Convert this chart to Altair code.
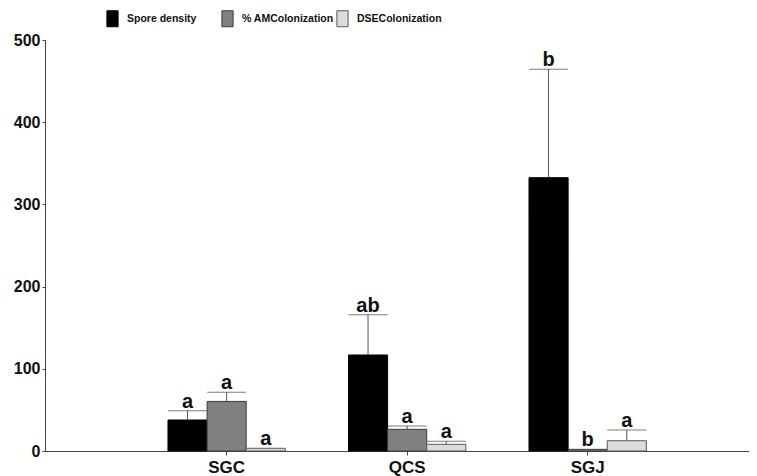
import altair as alt
import pandas as pd

groups = ["SGC", "QCS", "SGJ"]
series = ["Spore density", "% AMColonization", "DSEColonization"]

spore = [37.7, 116.8, 332.5]
spore_top = [49.0, 165.8, 464.4]
spore_letter = ["a", "ab", "b"]

am = [60.3, 26.4, 2.0]
am_top = [71.4, 30.4, 2.0]
am_letter = ["a", "a", "b"]

dse = [3.3, 8.1, 12.5]
dse_top = [3.3, 11.8, 25.5]
dse_letter = ["a", "a", "a"]

colors = ["#000000", "#808080", "#dcdcdc"]
strokes = ["#000000", "#3c3c3c", "#5a5a5a"]

rows = []
for s, vals, tops, lets in [
    (series[0], spore, spore_top, spore_letter),
    (series[1], am, am_top, am_letter),
    (series[2], dse, dse_top, dse_letter),
]:
    for g, v, t, l in zip(groups, vals, tops, lets):
        rows.append({"group": g, "series": s, "value": v, "top": t, "letter": l,
                     "has_err": t > v})
df = pd.DataFrame(rows)

FONT = "Liberation Sans"

x_enc = alt.X("group:N", sort=groups, title=None,
              scale=alt.Scale(paddingInner=0.35, paddingOuter=0.625, align=0.545),
              axis=alt.Axis(labelAngle=0, labelFontSize=17, labelFontWeight="bold",
                            labelColor="#111111", labelFont=FONT, tickSize=4,
                            tickColor="#444444", domainColor="#444444", labelPadding=4))
xo_enc = alt.XOffset("series:N", sort=series,
                     scale=alt.Scale(paddingInner=0, paddingOuter=0))
y_scale = alt.Scale(domain=[0, 500], nice=False)
y_enc = alt.Y("value:Q", scale=y_scale, title=None,
              axis=alt.Axis(values=[0, 100, 200, 300, 400, 500], labelFontSize=16,
                            labelFontWeight="bold", labelColor="#111111", labelFont=FONT,
                            tickSize=3, tickColor="#444444", domainColor="#444444",
                            labelPadding=2, grid=False))

base = alt.Chart(df)

bars = base.mark_bar(strokeWidth=1).encode(
    x=x_enc,
    xOffset=xo_enc,
    y=y_enc,
    color=alt.Color("series:N", sort=series,
                    scale=alt.Scale(domain=series, range=colors),
                    legend=alt.Legend(title=None, orient="none", legendX=59, legendY=-30,
                                      direction="horizontal", columns=3, gridAlign="all",
                                      columnPadding=0,
                                      symbolType="M-0.7,-1L0.7,-1L0.7,1L-0.7,1Z",
                                      symbolSize=256, symbolStrokeColor="#222222",
                                      symbolStrokeWidth=1, symbolOpacity=1,
                                      labelFont=FONT, labelFontSize=10.5,
                                      labelFontWeight="bold", labelColor="#111111",
                                      labelOffset=6)),
    stroke=alt.Stroke("series:N", sort=series,
                      scale=alt.Scale(domain=series, range=strokes), legend=None),
)

err = base.transform_filter("datum.has_err").mark_rule(color="#555555", strokeWidth=1).encode(
    x=alt.X("group:N", sort=groups),
    xOffset=alt.XOffset("series:N", sort=series),
    y=alt.Y("value:Q", scale=y_scale),
    y2="top:Q",
)

caps = base.transform_filter("datum.has_err").mark_tick(
    color="#444444", thickness=1, size=39, orient="horizontal"
).encode(
    x=alt.X("group:N", sort=groups),
    xOffset=alt.XOffset("series:N", sort=series),
    y=alt.Y("top:Q", scale=y_scale),
)

letters = base.mark_text(
    font=FONT, fontSize=20, fontWeight="bold", color="#111111",
    baseline="alphabetic", align="center", dy=-3
).encode(
    x=alt.X("group:N", sort=groups),
    xOffset=alt.XOffset("series:N", sort=series),
    y=alt.Y("top:Q", scale=y_scale),
    text="letter:N",
)

chart = alt.layer(bars, err, caps, letters).properties(
    width=704, height=411,
    autosize=alt.AutoSizeParams(type="none"),
    padding={"left": 37, "top": 32, "right": 0, "bottom": 25},
).configure(background="white", view=alt.ViewConfig(stroke=None))

chart.save("out.html", embed_options={"renderer": "svg", "actions": False})
